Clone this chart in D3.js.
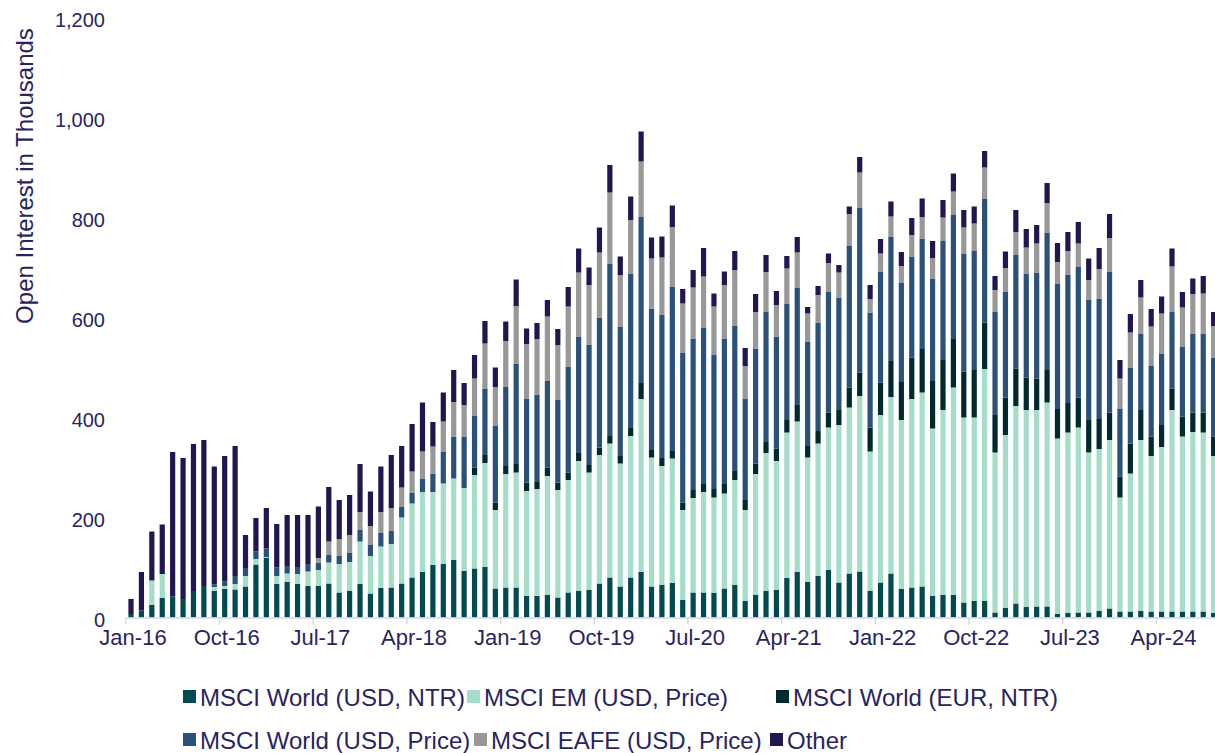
<!DOCTYPE html>
<html>
<head>
<meta charset="utf-8">
<script src="https://cdn.jsdelivr.net/npm/d3@7"></script>
<style>
  html, body { margin: 0; padding: 0; background: #ffffff; }
  svg { display: block; font-family: "Liberation Sans", Arial, sans-serif; }
</style>
</head>
<body>
<svg id="chart" width="1215" height="753"></svg>
<script>
// ---------- DATA ----------
const startMonth = "2016-01";   // first bar: Jan-16, monthly to Sep-24 (105 bars)
const tickLabels = ["Jan-16","Oct-16","Jul-17","Apr-18","Jan-19","Oct-19","Jul-20","Apr-21","Jan-22","Oct-22","Jul-23","Apr-24"];
const yTicks = [0, 200, 400, 600, 800, 1000, 1200];

const seriesNames = ["MSCI World (USD, NTR)", "MSCI EM (USD, Price)", "MSCI World (EUR, NTR)",
                     "MSCI World (USD, Price)", "MSCI EAFE (USD, Price)", "Other"];

const worldUsdNtr = [7,14,25,39,42,37,53,63,53,57,56,62,106,119,67,71,67,63,63,68,50,53,67,48,59,60,68,80,91,105,
  107,115,93,98,101,58,60,60,43,43,45,40,50,53,55,68,80,62,80,91,62,65,69,35,50,50,49,58,65,33,
  45,53,55,79,91,71,83,95,70,88,92,53,70,88,57,60,62,43,45,45,30,33,33,10,19,28,21,22,22,7,
  9,10,10,13,18,12,12,13,12,12,12,12,12,12,9];
const emUsdPrice = [0,0,49,48,0,0,0,0,8,6,11,21,11,2,16,17,20,29,32,42,57,58,85,75,83,87,132,148,160,146,
  161,163,166,187,208,157,227,230,210,214,238,215,225,260,235,257,268,246,283,346,258,238,249,180,189,201,191,190,210,182,
  242,276,258,291,301,249,265,285,315,332,351,279,335,353,338,377,388,335,370,415,370,367,464,320,346,395,394,393,408,351,
  361,370,320,324,337,228,276,342,311,329,403,350,359,358,314];
const worldEurNtr = [0,0,0,0,0,0,0,0,0,0,0,0,0,0,0,0,0,0,0,0,0,0,0,0,0,0,0,0,0,0,
  0,0,0,15,16,15,16,17,17,14,17,15,15,16,15,15,15,15,16,32,15,16,15,15,16,16,17,19,18,20,
  21,22,25,25,33,23,25,30,30,40,47,48,65,72,76,83,87,95,100,97,92,95,93,75,75,75,65,63,65,59,
  59,60,65,60,55,42,60,60,39,44,43,40,39,40,39];
const worldUsdPrice = [0,0,0,0,0,0,0,0,5,9,16,16,15,17,17,15,14,15,15,15,16,19,23,22,27,26,21,22,27,37,
  63,84,103,103,133,153,158,201,168,174,173,165,212,233,240,260,345,259,308,332,283,286,329,299,303,313,268,291,290,203,
  230,261,224,233,235,209,216,241,225,283,330,230,222,249,199,202,220,205,238,248,236,238,247,206,212,227,208,212,275,250,
  256,261,240,241,281,136,151,152,141,142,154,140,158,158,158];
const eafeUsdPrice = [0,0,0,0,0,0,0,0,0,0,0,0,0,0,0,0,0,0,9,27,34,35,36,38,42,46,39,42,54,54,
  61,69,63,75,90,78,92,115,109,112,129,110,120,128,120,130,142,103,108,111,100,115,119,99,102,102,97,107,112,65,
  73,79,63,70,70,56,56,58,50,64,70,27,36,40,33,43,44,41,47,47,52,55,63,44,47,46,52,58,59,44,
  48,47,40,59,68,60,71,73,79,81,90,78,79,80,63];
const other = [30,77,98,99,289,282,294,292,236,251,260,66,67,81,87,102,104,98,103,109,78,80,96,69,91,106,83,95,98,49,
  58,64,44,47,45,39,39,53,31,32,33,32,39,48,35,50,55,37,47,60,42,42,43,29,35,57,26,27,38,36,
  36,34,28,25,31,13,18,19,15,15,31,28,29,30,28,34,37,34,35,36,35,34,33,28,33,44,37,37,40,38,
  38,43,43,42,48,37,37,35,35,34,36,31,31,35,28];

const colors = ["#004A50", "#A4DEC9", "#00292D", "#2A5179", "#989898", "#211650"];
const textColor = "#29245F";

// ---------- BUILD ----------
const parseMonth = d3.timeParse("%Y-%m");
const fmtMonth = d3.timeFormat("%b-%y");
const months = d3.range(worldUsdNtr.length).map(i => d3.timeMonth.offset(parseMonth(startMonth), i));
const cats = months.map(fmtMonth);
const seriesData = [worldUsdNtr, emUsdPrice, worldEurNtr, worldUsdPrice, eafeUsdPrice, other];
const rows = cats.map((c, i) => {
  const r = { cat: c };
  seriesNames.forEach((s, k) => r[s] = seriesData[k][i]);
  return r;
});
const stacked = d3.stack().keys(seriesNames)(rows);

const svg = d3.select("#chart");
const left = 125.8, step = 10.41, n = cats.length;
const x = d3.scaleBand().domain(cats).range([left, left + step * n]).paddingInner(0.5).paddingOuter(0.25);
const y = d3.scaleLinear().domain([0, 1200]).range([617.5, 17.5]);

// bars
svg.append("g").selectAll("g")
  .data(stacked).join("g")
  .attr("fill", (d, i) => colors[i])
  .selectAll("rect")
  .data(d => d).join("rect")
  .attr("x", d => x(d.data.cat))
  .attr("width", x.bandwidth())
  .attr("y", d => y(d[1]))
  .attr("height", d => Math.max(0, y(d[0]) - y(d[1])));

// x axis line + ticks (ticks between categories every 9 months)
const axisG = svg.append("g");
axisG.append("line")
  .attr("x1", left).attr("x2", 1215)
  .attr("y1", y(0) + 0.5).attr("y2", y(0) + 0.5)
  .attr("stroke", "#D5D5EE").attr("stroke-width", 1.5);
const tickIdx = d3.range(0, n, 9);
axisG.selectAll("line.tk").data(tickIdx).join("line")
  .attr("class", "tk")
  .attr("x1", i => x(cats[i]) - x.step() * x.paddingInner() / 2)
  .attr("x2", i => x(cats[i]) - x.step() * x.paddingInner() / 2)
  .attr("y1", y(0)).attr("y2", y(0) + 7)
  .attr("stroke", "#D5D5EE").attr("stroke-width", 1.5);

axisG.selectAll("text.xl").data(tickLabels).join("text")
  .attr("class", "xl")
  .attr("x", d => x(d) + x.bandwidth() / 2 + 2)
  .attr("y", 645)
  .attr("text-anchor", "middle")
  .attr("fill", textColor)
  .attr("font-size", 22)
  .text(d => d);

// y labels
svg.append("g").selectAll("text").data(yTicks).join("text")
  .attr("x", 105)
  .attr("y", d => y(d) + 9)
  .attr("text-anchor", "end")
  .attr("fill", textColor)
  .attr("font-size", 20)
  .text(d => d3.format(",")(d));

// y title
svg.append("text")
  .attr("transform", "translate(33,176) rotate(-90)")
  .attr("text-anchor", "middle")
  .attr("fill", textColor)
  .attr("font-size", 24)
  .text("Open Interest in Thousands");

// legend
const legendPos = [[183, 697], [467, 697], [776, 697], [183, 740], [474, 740], [770, 740]];
const lg = svg.append("g").selectAll("g").data(seriesNames).join("g")
  .attr("transform", (d, i) => `translate(${legendPos[i][0]},${legendPos[i][1]})`);
lg.append("rect").attr("x", 0).attr("y", -7).attr("width", 13).attr("height", 13)
  .attr("fill", (d, i) => colors[i]);
lg.append("text").attr("x", 17).attr("y", 8.5)
  .attr("fill", textColor).attr("font-size", 24)
  .text(d => d);
</script>
</body>
</html>
